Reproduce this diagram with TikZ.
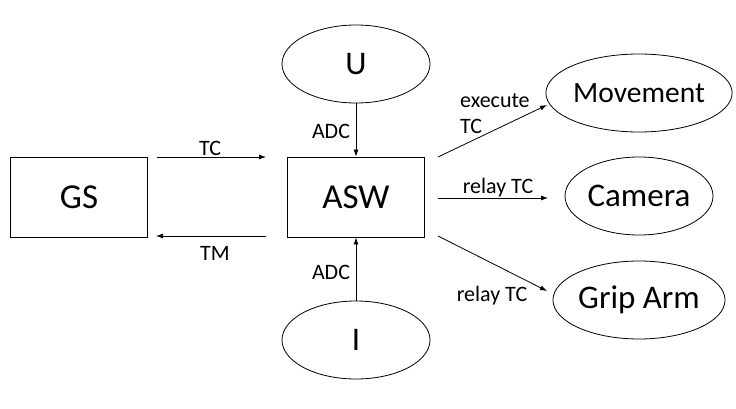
\documentclass[tikz,border=0pt]{standalone}
\usepackage{fontspec}
\setmainfont{Carlito}
\usetikzlibrary{shapes.geometric,arrows.meta}
\begin{document}
\begin{tikzpicture}[x=1pt, y=-1pt,
  box/.style={draw, line width=0.8pt, minimum width=137pt, minimum height=80pt, font=\fontsize{35}{38}\selectfont},
  blob/.style={draw, ellipse, line width=0.8pt, minimum width=148pt, minimum height=78pt, inner sep=0pt, font=\fontsize{33}{36}\selectfont},
  flow/.style={-{Latex[length=7pt,width=5pt]}, line width=0.8pt},
  lbl/.style={font=\fontsize{22}{26}\selectfont, inner sep=0pt}]
  \useasboundingbox (0,0) rectangle (736,409);
  % boxes
  \node[box] (gs) at (79,197) {GS};
  \node[box] (asw) at (356,197) {ASW};
  % ellipses
  \node[blob] (u) at (356,64) {U};
  \node[blob] (i) at (356,340) {I};
  \node[blob, font=\fontsize{29.5}{33}\selectfont] (move) at (639,93) {Movement};
  \node[blob] (cam) at (639,196) {Camera};
  \node[blob] (grip) at (639,300) {Grip Arm};
  % free ends
  \coordinate (tcA) at (157,157);
  \coordinate (tcB) at (266,157);
  \coordinate (tmA) at (266,236);
  \coordinate (tmB) at (156,236);
  \coordinate (exA) at (438,157);
  \coordinate (exB) at (547,105);
  \coordinate (caA) at (438,198);
  \coordinate (caB) at (548,198);
  \coordinate (grA) at (438,236);
  \coordinate (grB) at (547,291);
  % connectors
  \draw[flow] (tcA) -- (tcB);
  \draw[flow] (tmA) -- (tmB);
  \draw[flow] (u.south) -- (asw.north);
  \draw[flow] (i.north) -- (asw.south);
  \draw[flow] (exA) -- (exB);
  \draw[flow] (caA) -- (caB);
  \draw[flow] (grA) -- (grB);
  % labels
  \node[lbl] (tcL) at (210,148) {TC};
  \node[lbl] (tmL) at (215,253) {TM};
  \node[lbl] (adcU) at (331,131) {ADC};
  \node[lbl] (adcI) at (331,272) {ADC};
  \node[lbl, align=left, anchor=west] (exL) at (460,114) {execute\\TC};
  \node[lbl] (caL) at (498,188) {relay TC};
  \node[lbl] (grL) at (492,296) {relay TC};
\end{tikzpicture}
\end{document}
